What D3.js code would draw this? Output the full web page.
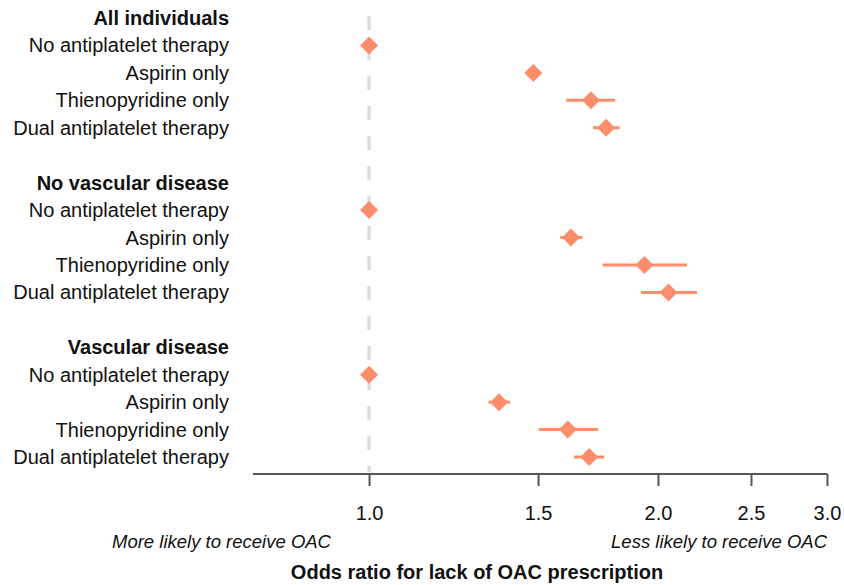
<!DOCTYPE html>
<html><head><meta charset="utf-8">
<script src="https://cdn.jsdelivr.net/npm/d3@7"></script>
<style>body{margin:0;background:#fff}svg{display:block;font-family:"Liberation Sans",Arial,Helvetica,sans-serif}</style>
</head><body>
<script>
const groups = ["All individuals", "No vascular disease", "Vascular disease"];
const therapies = ["No antiplatelet therapy", "Aspirin only", "Thienopyridine only", "Dual antiplatelet therapy"];
const estimates = [
  [1.0, 1.483, 1.703, 1.766],
  [1.0, 1.623, 1.936, 2.051],
  [1.0, 1.366, 1.611, 1.696]
];
const lower = [
  [1.0, 1.470, 1.605, 1.711],
  [1.0, 1.582, 1.751, 1.920],
  [1.0, 1.332, 1.503, 1.635]
];
const upper = [
  [1.0, 1.497, 1.805, 1.824],
  [1.0, 1.669, 2.144, 2.196],
  [1.0, 1.403, 1.732, 1.758]
];
const tickValues = [1.0, 1.5, 2.0, 2.5, 3.0];
const tickLabels = ["1.0", "1.5", "2.0", "2.5", "3.0"];

const W = 844, H = 585;
const svg = d3.select("body").append("svg").attr("width", W).attr("height", H);
const color = "#fc8d6a";

const rows = [];
groups.forEach((g, gi) => {
  rows.push({type: "header", label: g});
  therapies.forEach((t, ti) => rows.push({type: "item", label: t, est: estimates[gi][ti], lo: lower[gi][ti], hi: upper[gi][ti]}));
  if (gi < groups.length - 1) rows.push({type: "blank"});
});

const y = d3.scalePoint().domain(d3.range(rows.length)).range([18, 457]);
const x = d3.scaleLog().domain([0.757, 3.0]).range([253, 827]);

svg.append("line").attr("x1", x(1)).attr("x2", x(1)).attr("y1", 16).attr("y2", 472)
  .attr("stroke", "#dcdcdc").attr("stroke-width", 3.5).attr("stroke-dasharray", "14,16");

const axis = d3.axisBottom(x).tickValues(tickValues).tickFormat((d, i) => tickLabels[i]).tickSize(12).tickPadding(20);
const ag = svg.append("g").attr("transform", "translate(0,474)").call(axis);
ag.select(".domain").attr("stroke", "#555").attr("stroke-width", 2).attr("d", `M${x.range()[0]},0H${x.range()[1]}`);
ag.selectAll(".tick line").attr("stroke", "#555").attr("stroke-width", 2);
ag.selectAll(".tick text").attr("font-size", 20).attr("fill", "#111").attr("font-family", "Liberation Sans, Arial, sans-serif");

svg.append("g").selectAll("text").data(rows.map((r, i) => ({...r, i})).filter(r => r.type !== "blank"))
  .join("text")
  .attr("x", 229).attr("y", d => y(d.i)).attr("dy", "0.35em")
  .attr("text-anchor", "end").attr("font-size", 20)
  .attr("font-weight", d => d.type === "header" ? "bold" : "normal")
  .attr("fill", "#111")
  .text(d => d.label);

const items = rows.map((r, i) => ({...r, i})).filter(r => r.type === "item");
svg.append("g").selectAll("line").data(items).join("line")
  .attr("x1", d => x(d.lo)).attr("x2", d => x(d.hi))
  .attr("y1", d => y(d.i)).attr("y2", d => y(d.i))
  .attr("stroke", color).attr("stroke-width", 3);
const s = 9;
svg.append("g").selectAll("path").data(items).join("path")
  .attr("d", d => { const cx = x(d.est), cy = y(d.i); return `M${cx},${cy - s}L${cx + s},${cy}L${cx},${cy + s}L${cx - s},${cy}Z`; })
  .attr("fill", color);

svg.append("text").attr("x", 112).attr("y", 548).attr("font-size", 18.5).attr("font-style", "italic").attr("fill", "#111").text("More likely to receive OAC");
svg.append("text").attr("x", 827).attr("y", 548).attr("text-anchor", "end").attr("font-size", 18.5).attr("font-style", "italic").attr("fill", "#111").text("Less likely to receive OAC");
svg.append("text").attr("x", 477).attr("y", 579).attr("text-anchor", "middle").attr("font-size", 20).attr("font-weight", "bold").attr("fill", "#111").text("Odds ratio for lack of OAC prescription");
</script>
</body></html>
